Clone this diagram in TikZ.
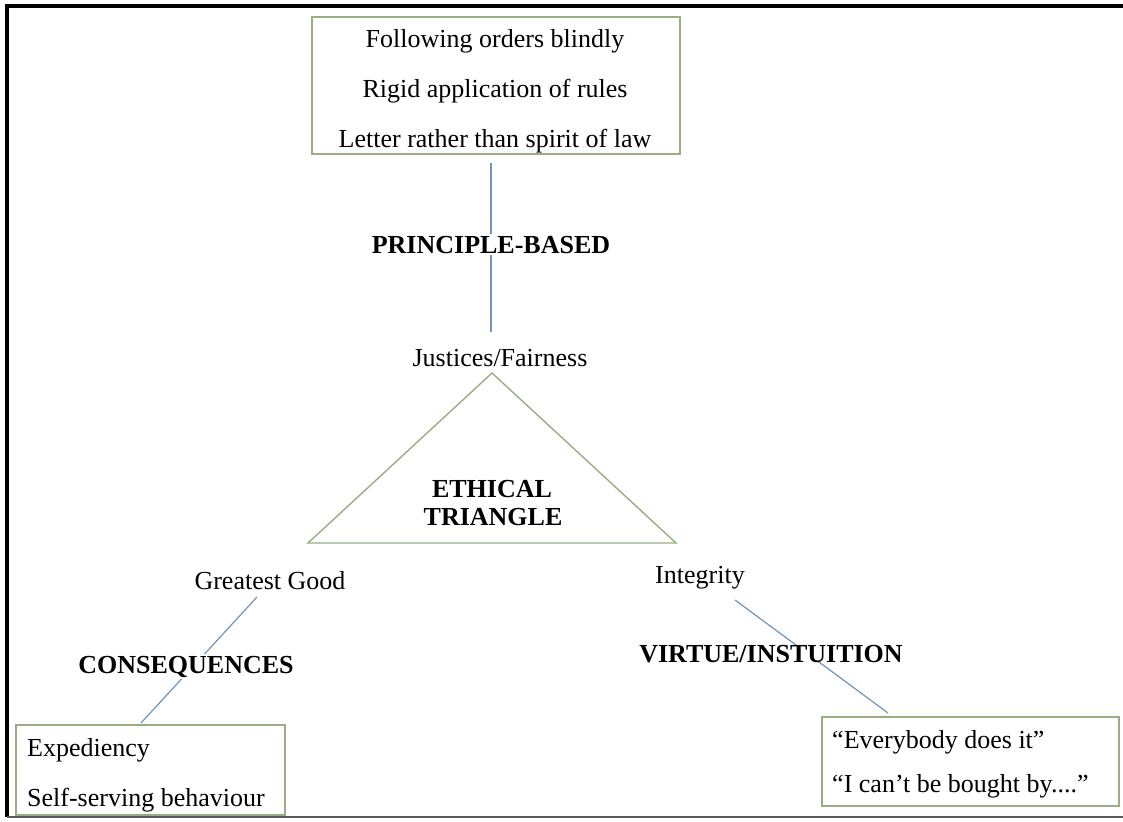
\documentclass[tikz,border=0pt]{standalone}
\usepackage{fontspec}
\setmainfont{Liberation Serif}
\definecolor{boxgreen}{RGB}{152,174,130}
\definecolor{linkblue}{RGB}{112,148,188}
\definecolor{framegray}{RGB}{90,90,90}
\tikzset{
  gbox/.style={draw=boxgreen, line width=1.4pt, inner sep=0pt, fill=none},
  txt/.style={inner sep=0pt, font=\fontsize{26}{30}\selectfont},
  btxt/.style={inner sep=2pt, fill=white, font=\fontsize{26}{30}\selectfont\bfseries},
  link/.style={draw=linkblue, line width=1.2pt},
}
\begin{document}
\begin{tikzpicture}[x=1pt,y=-1pt]
\useasboundingbox (0,0) rectangle (1123,821);
% frame
\draw[black, line width=4pt] (7,817) -- (7,6) -- (1123,6);
\draw[framegray, line width=2pt] (7,817) -- (1123,817);

% top box
\node[gbox, minimum width=368pt, minimum height=137pt] (topbox) at (496,85.5) {};
\node[txt, anchor=base] (t1) at (495,48) {Following orders blindly};
\node[txt, anchor=base] (t2) at (495,98) {Rigid application of rules};
\node[txt, anchor=base] (t3) at (495,148) {Letter rather than spirit of law};

% labels
\node[txt, anchor=base] (just) at (500,366) {Justices/Fairness};
\node[txt, anchor=base] (gg) at (270,589) {Greatest Good};
\node[txt, anchor=base] (integ) at (700,583) {Integrity};

% triangle
\coordinate (apex) at (492,373);
\coordinate (bl) at (308,543);
\coordinate (br) at (676,543);
\draw[boxgreen, line width=1.4pt, line join=miter] (apex) -- (br) -- (bl) -- cycle;
\node[txt, font=\fontsize{26}{30}\selectfont\bfseries, anchor=base] (eth1) at (492,497) {ETHICAL};
\node[txt, font=\fontsize{26}{30}\selectfont\bfseries, anchor=base] (eth2) at (493,525) {TRIANGLE};

% bottom boxes
\node[gbox, minimum width=269pt, minimum height=90pt] (lbox) at (150.5,770) {};
\node[txt, anchor=base west] (l1) at (27,756) {Expediency};
\node[txt, anchor=base west] (l2) at (27,806) {Self-serving behaviour};

\node[gbox, minimum width=297pt, minimum height=89pt] (rbox) at (970.5,761.5) {};
\node[txt, anchor=base west] (r1) at (832,748) {“Everybody does it”};
\node[txt, anchor=base west] (r2) at (832,792) {“I can’t be bought by....”};

% connector end points
\coordinate (c1a) at (491,163);
\coordinate (c1b) at (491,332);
\coordinate (c2a) at (257,597);
\coordinate (c2b) at (141,723);
\coordinate (c3a) at (735,600);
\coordinate (c3b) at (888,713);

% connectors
\draw[link] (c1a) -- (c1b);
\draw[link] (c2a) -- (c2b);
\draw[link] (c3a) -- (c3b);

% bold labels over connectors
\node[btxt, anchor=base] (pb) at (491,253) {PRINCIPLE-BASED};
\node[btxt, anchor=base] (cons) at (186,673) {CONSEQUENCES};
\node[btxt, anchor=base, inner sep=0pt] (virt) at (771,662) {VIRTUE/INSTUITION};
\end{tikzpicture}
\end{document}
